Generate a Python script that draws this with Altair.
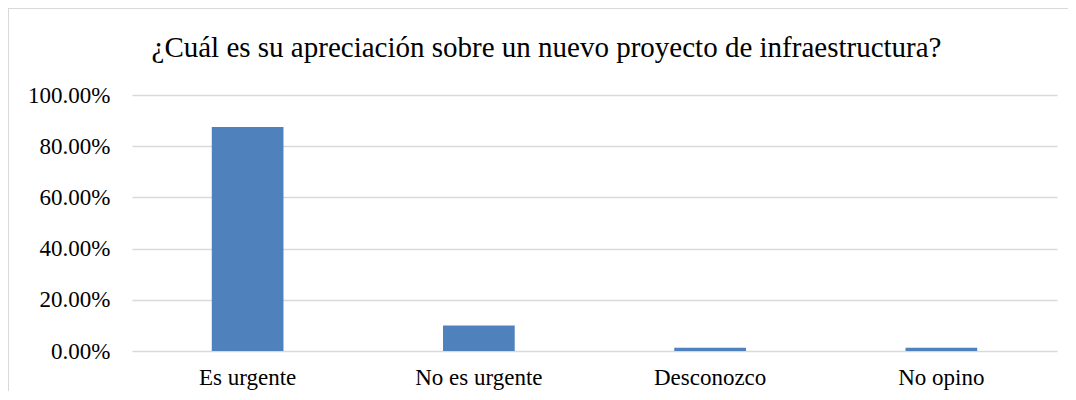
import altair as alt
import pandas as pd

categories = ["Es urgente", "No es urgente", "Desconozco", "No opino"]
values = [0.875, 0.10, 0.0125, 0.0125]
title_text = "¿Cuál es su apreciación sobre un nuevo proyecto de infraestructura?"

df = pd.DataFrame({"cat": categories, "val": values})

FONT = "Times New Roman, Liberation Serif, serif"
W, H = 925, 256

bars = alt.Chart(df).mark_bar(color="#4f81bd").encode(
    x=alt.X("cat:N", sort=categories, title=None,
            scale=alt.Scale(paddingInner=0.69, paddingOuter=0.345),
            axis=alt.Axis(labelAngle=0, labelFont=FONT, labelFontSize=23,
                          labelColor="#000000", ticks=False, domain=False,
                          labelPadding=15)),
    y=alt.Y("val:Q", title=None,
            scale=alt.Scale(domain=[0, 1]),
            axis=alt.Axis(format=".2%", values=[0, 0.2, 0.4, 0.6, 0.8, 1.0],
                          labelFont=FONT, labelFontSize=23, labelColor="#000000",
                          ticks=False, domain=False, labelPadding=22,
                          gridColor="#d9d9d9", gridWidth=1.5)),
)

border = alt.Chart(df).mark_rect(fill=None, stroke="#d9d9d9", strokeWidth=1.5).encode(
    x=alt.value(-124), x2=alt.value(950), y=alt.value(-87), y2=alt.value(310)
)

chart = alt.layer(border, bars).properties(
    width=W, height=H,
    autosize=alt.AutoSizeParams(type="none"),
    padding={"left": 124, "top": 87, "right": 11, "bottom": 40},
    title=alt.TitleParams(title_text, font=FONT, fontSize=29, fontWeight="normal",
                          color="#000000", anchor="middle", dx=-48, offset=-56),
).configure_view(stroke=None)

chart.save("out.html", embed_options={"renderer": "svg", "actions": False})
